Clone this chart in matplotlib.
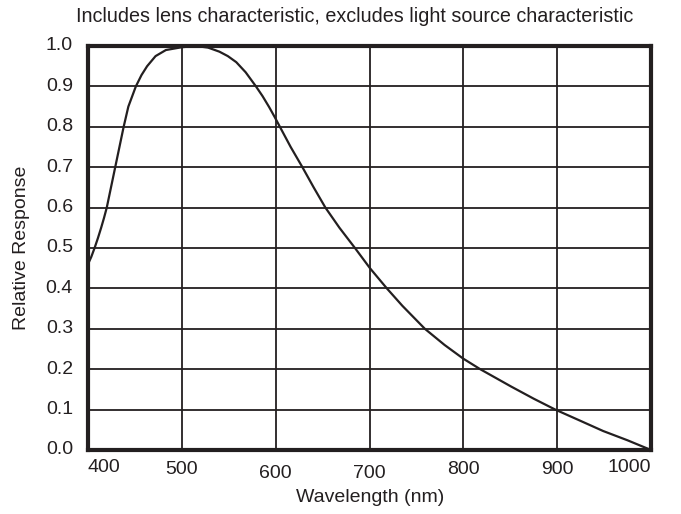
import matplotlib
matplotlib.use("Agg")
import matplotlib.pyplot as plt
from matplotlib import transforms

plt.rcParams['font.family'] = ['Liberation Sans', 'DejaVu Sans']

# Data
wavelength = [400, 403.5, 407, 410.5, 414, 417, 420, 424.5, 429, 433.5, 438, 443,
              451, 457, 463, 472, 483, 500, 515, 528, 540, 549, 558, 568, 579,
              586, 593, 599, 604.5, 616, 628.5, 640.5, 653, 668, 684.5, 700.5,
              718.5, 735, 759, 780, 800, 818, 851, 875, 898, 925, 949, 975, 1000]
response = [0.46, 0.478, 0.50, 0.524, 0.55, 0.574, 0.60, 0.65, 0.70, 0.75, 0.80,
            0.85, 0.90, 0.928, 0.95, 0.975, 0.99, 0.997, 1.0, 0.996, 0.986,
            0.975, 0.96, 0.935, 0.90, 0.876, 0.849, 0.824, 0.80, 0.75, 0.70,
            0.65, 0.60, 0.55, 0.50, 0.45, 0.40, 0.357, 0.30, 0.26, 0.226, 0.20,
            0.157, 0.127, 0.10, 0.072, 0.047, 0.024, 0.0]

x_ticks = [400, 500, 600, 700, 800, 900, 1000]
x_tick_labels = ["400", "500", "600", "700", "800", "900", "1000"]
y_ticks = [0.0, 0.1, 0.2, 0.3, 0.4, 0.5, 0.6, 0.7, 0.8, 0.9, 1.0]
y_tick_labels = ["0.0", "0.1", "0.2", "0.3", "0.4", "0.5", "0.6", "0.7", "0.8", "0.9", "1.0"]

title = "Includes lens characteristic, excludes light source characteristic"
xlabel = "Wavelength (nm)"
ylabel = "Relative Response"

W, H = 681, 514
fig = plt.figure(figsize=(W / 100, H / 100), dpi=100)
ax = fig.add_axes([88 / W, 1 - 450 / H, (651 - 88) / W, (450 - 46) / H])

dark = "#231f20"
fs = 14
ax.set_xlim(400, 1000)
ax.set_ylim(0, 1.0)
ax.set_xticks(x_ticks)
ax.set_yticks(y_ticks)
ax.grid(True, color=dark, linewidth=1.3)
ax.set_axisbelow(True)
ax.tick_params(length=0, labelbottom=False, labelleft=False)
for s in ax.spines.values():
    s.set_linewidth(3)
    s.set_color(dark)
    s.set_zorder(5)

ax.plot(wavelength, response, color=dark, linewidth=1.6, zorder=4,
        solid_joinstyle='round')

# x tick labels (slightly staggered as in reference)
xoffs = [-17, -20, -24, -24, -20, -20, -17]
bt = transforms.blended_transform_factory(ax.transData, ax.transAxes)
for i, (xv, lab) in enumerate(zip(x_ticks, x_tick_labels)):
    ha = 'center'
    if i == 0:
        ha = 'left'
    elif i == len(x_ticks) - 1:
        ha = 'right'
    tr = bt + transforms.ScaledTranslation(0, xoffs[i] / 100, fig.dpi_scale_trans)
    ax.text(xv, 0, lab, transform=tr, ha=ha, va='center', fontsize=fs, color=dark)

bt2 = transforms.blended_transform_factory(ax.transAxes, ax.transData)
for yv, lab in zip(y_ticks, y_tick_labels):
    tr = bt2 + transforms.ScaledTranslation(-15 / 100, 0, fig.dpi_scale_trans)
    ax.text(0, yv, lab, transform=tr, ha='right', va='center', fontsize=fs, color=dark)

fig.text(370 / W, 1 - 497 / H, xlabel, ha='center', va='center', fontsize=fs, color=dark)
fig.text(22 / W, 1 - 248 / H, ylabel, ha='center', va='center', rotation=90, fontsize=fs, color=dark)
fig.text(355 / W, 1 - 17 / H, title, ha='center', va='center', fontsize=14.2, color=dark)

fig.savefig("out.png", dpi=100)
